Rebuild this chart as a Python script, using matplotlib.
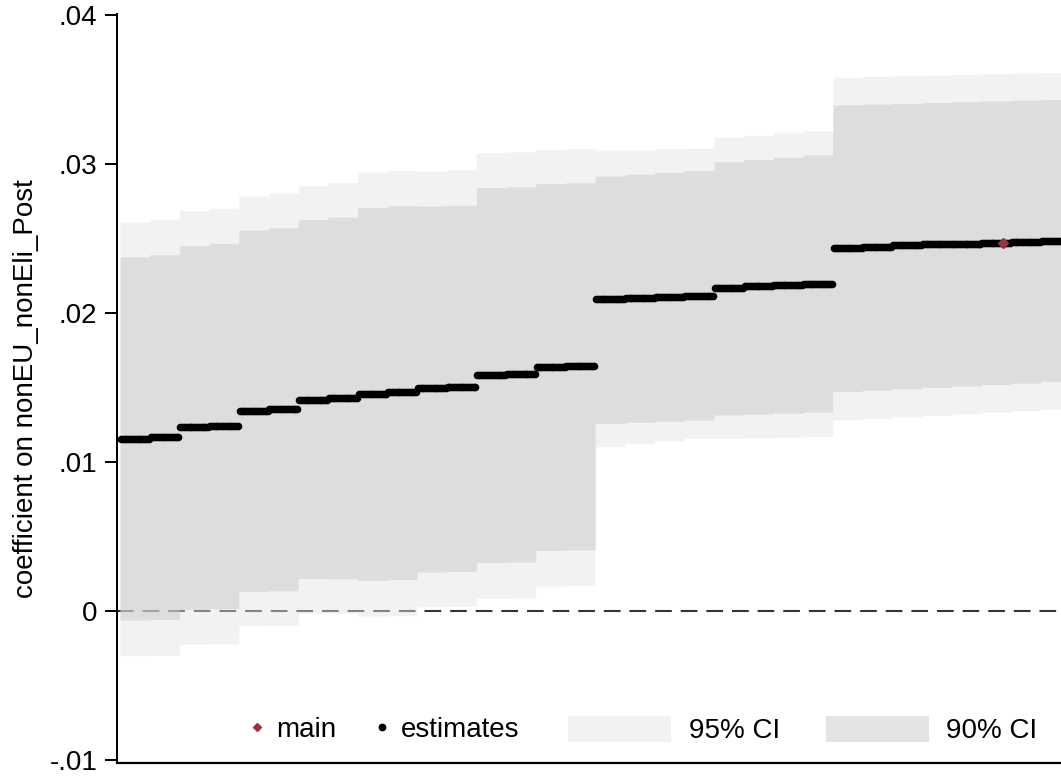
import numpy as np
import matplotlib
matplotlib.use("Agg")
import matplotlib.pyplot as plt
from matplotlib.lines import Line2D
from matplotlib.patches import Patch

plt.rcParams['font.family'] = ['Liberation Sans', 'DejaVu Sans']

# ---- data (one entry per block of near-identical specifications) ----
estimates = [0.01156, 0.01168, 0.01237, 0.01244, 0.01346, 0.01356, 0.01420, 0.01430,
             0.01460, 0.01470, 0.01497, 0.01507, 0.01586, 0.01595, 0.01638, 0.01646,
             0.02097, 0.02103, 0.02109, 0.02114, 0.02172, 0.02183, 0.02190, 0.02198,
             0.02438, 0.02445, 0.02458, 0.02463, 0.02467, 0.02472, 0.02477, 0.02483]
ci95_high = [0.02613, 0.02631, 0.02689, 0.02705, 0.02787, 0.02807, 0.02856, 0.02877,
             0.02948, 0.02960, 0.02955, 0.02964, 0.03078, 0.03083, 0.03100, 0.03105,
             0.03096, 0.03096, 0.03105, 0.03108, 0.03181, 0.03195, 0.03210, 0.03226,
             0.03584, 0.03590, 0.03594, 0.03600, 0.03604, 0.03608, 0.03612, 0.03615]
ci90_high = [0.02380, 0.02393, 0.02454, 0.02470, 0.02557, 0.02574, 0.02628, 0.02646,
             0.02711, 0.02722, 0.02720, 0.02726, 0.02843, 0.02848, 0.02870, 0.02876,
             0.02921, 0.02933, 0.02945, 0.02957, 0.03017, 0.03032, 0.03047, 0.03062,
             0.03398, 0.03404, 0.03409, 0.03414, 0.03420, 0.03425, 0.03430, 0.03436]
ci90_low = [-0.00058, -0.00055, 0.00013, 0.00017, 0.00134, 0.00138, 0.00220, 0.00218,
            0.00207, 0.00212, 0.00264, 0.00268, 0.00327, 0.00331, 0.00408, 0.00412,
            0.01260, 0.01268, 0.01276, 0.01284, 0.01317, 0.01323, 0.01330, 0.01336,
            0.01474, 0.01484, 0.01493, 0.01503, 0.01512, 0.01522, 0.01531, 0.01541]
ci95_low = [-0.00298, -0.00296, -0.00222, -0.00220, -0.00097, -0.00095, -0.00013, -0.00012,
            -0.00032, -0.00030, 0.00031, 0.00033, 0.00087, 0.00089, 0.00170, 0.00172,
            0.01105, 0.01125, 0.01145, 0.01161, 0.01161, 0.01164, 0.01168, 0.01172,
            0.01284, 0.01294, 0.01304, 0.01315, 0.01325, 0.01335, 0.01346, 0.01356]
specs_per_block = 16
main_spec = 476
main_value = 0.02473

yticks = [-0.01, 0.0, 0.01, 0.02, 0.03, 0.04]
ytick_labels = ['-.01', '0', '.01', '.02', '.03', '.04']
ylabel = 'coefficient on nonEU_nonEli_Post'
legend_labels = ['main', 'estimates', '95% CI', '90% CI']

# ---- expand blocks into specifications ----
est = np.repeat(estimates, specs_per_block)
h95 = np.repeat(ci95_high, specs_per_block)
l95 = np.repeat(ci95_low, specs_per_block)
h90 = np.repeat(ci90_high, specs_per_block)
l90 = np.repeat(ci90_low, specs_per_block)
n = len(est)
x = np.arange(1, n + 1)
edges = np.arange(n + 1) + 0.5

c95 = (227/255, 227/255, 227/255)
c90 = (198/255, 198/255, 198/255)
fa = 0.46
maroon = '#993344'

fig = plt.figure(figsize=(10.61, 7.76), dpi=100)
W, H = 1061, 776
ax = fig.add_axes([117/W, (H-763)/H, 1 - 117/W, (763-13.8)/H])

ax.axhline(0, color='#333333', lw=1.5, ls=(0, (8, 4.3)), zorder=1)
ax.fill_between(edges, np.append(l95, l95[-1]), np.append(h95, h95[-1]), step='post',
                color=c95, alpha=fa, lw=0, zorder=2)
ax.fill_between(edges, np.append(l90, l90[-1]), np.append(h90, h90[-1]), step='post',
                color=c90, alpha=fa, lw=0, zorder=3)
ax.scatter(x, est, s=30, color='black', linewidths=0, zorder=4)
ax.plot([main_spec], [main_value], marker='D', ms=5.5, color=maroon, ls='none', zorder=5)

px_per_unit = 29.7 / specs_per_block
ax.set_xlim(0.5 - 3 / px_per_unit, 0.5 + 941 / px_per_unit)
ax.set_ylim(-0.01018, 0.0401)
ax.set_xticks([])
ax.set_yticks(yticks)
ax.set_yticklabels(ytick_labels)
ax.tick_params(axis='y', length=8.6, width=1.44, pad=5.5, labelsize=20, color='black')
for s in ['top', 'right']:
    ax.spines[s].set_visible(False)
ax.spines['left'].set_linewidth(1.44)
ax.spines['bottom'].set_linewidth(1.6)
ax.set_ylabel(ylabel, fontsize=20)
ax.yaxis.set_label_coords((39 - 117) / 944, 0.5)

# legends
h_main = Line2D([], [], marker='D', color=maroon, ls='none', ms=3.8)
h_est = Line2D([], [], marker='o', color='black', ls='none', ms=4.6)
leg1 = ax.legend([h_main, h_est], legend_labels[:2], loc='center left',
                 bbox_to_anchor=((248.6 - 117) / 944, (763 - 730) / 749.2),
                 ncol=2, frameon=False, fontsize=20, handlelength=0.6,
                 handletextpad=0.41, columnspacing=1.31, borderpad=0, borderaxespad=0)
ax.add_artist(leg1)
p95 = Patch(facecolor=c95, alpha=fa, lw=0)
p90 = Patch(facecolor=c90, alpha=fa, lw=0)
ax.legend([p95, p90], legend_labels[2:], loc='center left',
          bbox_to_anchor=((568 - 117) / 944, (763 - 730) / 749.2),
          ncol=2, frameon=False, fontsize=20, handlelength=3.71, handleheight=1.07,
          handletextpad=0.64, columnspacing=1.64, borderpad=0, borderaxespad=0)

fig.savefig('out.png', dpi=100)
